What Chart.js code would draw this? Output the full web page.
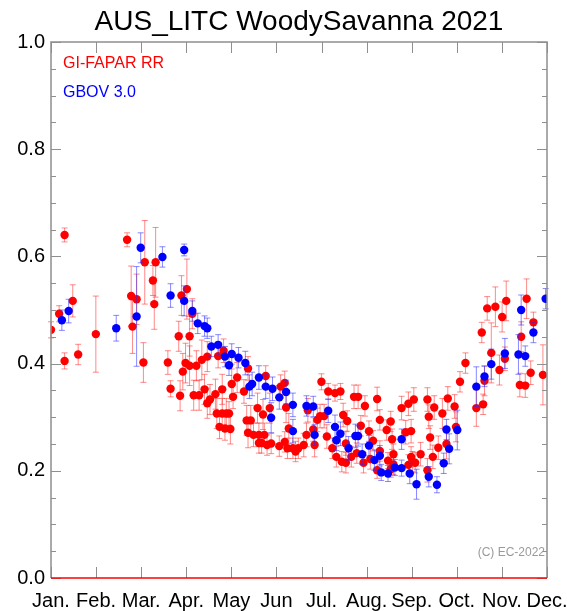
<!DOCTYPE html>
<html>
<head>
<meta charset="utf-8">
<title>AUS_LITC WoodySavanna 2021</title>
<script src="https://cdn.jsdelivr.net/npm/chart.js@4.4.1/dist/chart.umd.min.js"></script>
<style>
    html, body { margin: 0; padding: 0; background: #fff; }
    #wrap { width: 567px; height: 611px; position: relative; }
</style>
</head>
<body>
<div id="wrap"><canvas id="fapar-chart"></canvas></div>
<script>
const FONT = '"Liberation Sans", Arial, Helvetica, sans-serif';

const TITLE = 'AUS_LITC WoodySavanna 2021';
const MONTH_LABELS = ['Jan.', 'Feb.', 'Mar.', 'Apr.', 'May', 'Jun', 'Jul.', 'Aug.', 'Sep.', 'Oct.', 'Nov.', 'Dec.'];
const Y_TICKS = [0, 0.2, 0.4, 0.6, 0.8, 1.0];
const Y_MINOR_STEP = 0.05;
const DAYS_IN_YEAR = 365;

// GI-FAPAR RR: day of year, value, uncertainty
const rrDays = [0, 6, 10, 10, 16, 20, 33, 56, 59, 63, 60, 69, 68, 75, 77, 76, 86, 88, 95, 94,
    97, 99, 100, 96, 102, 102, 107, 105, 109, 111, 115, 115, 104, 113, 117, 121, 126, 123, 127, 122,
    126, 129, 131, 124, 128, 132, 134, 133, 137, 142, 145, 144, 147, 145, 149, 153, 157, 152, 156, 161,
    158, 153, 155, 159, 162, 168, 172, 174, 169, 172, 175, 173, 178, 180, 182, 186, 188, 189, 193, 194,
    196, 198, 201, 199, 203, 204, 209, 213, 207, 210, 215, 217, 214, 217, 223, 226, 221, 225, 218, 231,
    228, 234, 237, 240, 242, 230, 235, 242, 247, 250, 251, 240, 248, 250, 252, 252, 258, 263, 267, 261,
    265, 272, 265, 266, 263, 268, 277, 278, 282, 279, 281, 277, 285, 288, 292, 297, 291, 298, 301, 305,
    313, 318, 319, 317, 321, 327, 324, 330, 332, 334, 335, 345, 349, 353, 346, 350, 355, 362];
const rrValues = [0.463, 0.493, 0.640, 0.405, 0.517, 0.417, 0.455, 0.631, 0.526, 0.520, 0.469, 0.589, 0.402, 0.555, 0.589, 0.511, 0.402, 0.353, 0.340, 0.451,
    0.385, 0.401, 0.539, 0.527, 0.451, 0.396, 0.396, 0.341, 0.341, 0.407, 0.326, 0.413, 0.493, 0.352, 0.333, 0.343, 0.352, 0.414, 0.424, 0.307,
    0.307, 0.307, 0.307, 0.282, 0.279, 0.278, 0.338, 0.362, 0.374, 0.348, 0.391, 0.294, 0.294, 0.271, 0.267, 0.267, 0.267, 0.317, 0.305, 0.317,
    0.377, 0.252, 0.252, 0.248, 0.251, 0.246, 0.254, 0.242, 0.357, 0.364, 0.279, 0.318, 0.242, 0.236, 0.242, 0.248, 0.267, 0.313, 0.277, 0.248,
    0.295, 0.302, 0.302, 0.366, 0.264, 0.348, 0.345, 0.348, 0.242, 0.226, 0.304, 0.251, 0.217, 0.215, 0.338, 0.338, 0.226, 0.233, 0.293, 0.321,
    0.284, 0.274, 0.256, 0.334, 0.295, 0.215, 0.222, 0.237, 0.276, 0.292, 0.259, 0.201, 0.219, 0.203, 0.231, 0.212, 0.317, 0.325, 0.333, 0.272,
    0.274, 0.231, 0.226, 0.217, 0.211, 0.215, 0.333, 0.301, 0.318, 0.262, 0.226, 0.201, 0.243, 0.307, 0.335, 0.320, 0.250, 0.282, 0.366, 0.401,
    0.317, 0.324, 0.368, 0.458, 0.503, 0.506, 0.420, 0.388, 0.487, 0.409, 0.517, 0.360, 0.359, 0.383, 0.450, 0.521, 0.477, 0.379];
const rrErrors = [0.015, 0.015, 0.013, 0.015, 0.030, 0.019, 0.071, 0.013, 0.056, 0.047, 0.050, 0.078, 0.037, 0.028, 0.065, 0.047, 0.022, 0.015, 0.028, 0.028,
    0.034, 0.037, 0.056, 0.037, 0.037, 0.037, 0.028, 0.028, 0.028, 0.037, 0.028, 0.028, 0.028, 0.028, 0.028, 0.028, 0.028, 0.022, 0.022, 0.028,
    0.028, 0.028, 0.022, 0.022, 0.022, 0.028, 0.022, 0.028, 0.028, 0.022, 0.022, 0.028, 0.028, 0.028, 0.022, 0.022, 0.022, 0.028, 0.028, 0.028,
    0.019, 0.019, 0.019, 0.019, 0.019, 0.019, 0.019, 0.019, 0.022, 0.022, 0.028, 0.028, 0.019, 0.019, 0.019, 0.022, 0.022, 0.022, 0.022, 0.022,
    0.022, 0.022, 0.022, 0.015, 0.022, 0.015, 0.015, 0.015, 0.019, 0.019, 0.022, 0.022, 0.019, 0.019, 0.022, 0.022, 0.019, 0.019, 0.019, 0.019,
    0.019, 0.019, 0.019, 0.022, 0.019, 0.019, 0.019, 0.019, 0.019, 0.019, 0.019, 0.015, 0.015, 0.015, 0.019, 0.019, 0.022, 0.022, 0.022, 0.022,
    0.022, 0.022, 0.019, 0.019, 0.019, 0.019, 0.022, 0.022, 0.022, 0.022, 0.022, 0.022, 0.022, 0.028, 0.022, 0.022, 0.028, 0.028, 0.019, 0.019,
    0.034, 0.019, 0.028, 0.019, 0.022, 0.037, 0.056, 0.028, 0.028, 0.022, 0.037, 0.022, 0.022, 0.022, 0.028, 0.037, 0.019, 0.056];

// GBOV 3.0: day of year, value, uncertainty
const gbovDays = [8, 13, 48, 63, 66, 82, 88, 98, 98, 104, 108, 113, 115, 118, 123, 128, 133, 131, 138, 143,
    146, 148, 153, 158, 163, 168, 173, 178, 162, 178, 188, 193, 204, 194, 209, 213, 210, 219, 224, 226,
    229, 234, 238, 242, 243, 248, 253, 258, 264, 258, 269, 278, 284, 289, 291, 293, 299, 313, 319, 324,
    334, 344, 349, 346, 355, 364];
const gbovValues = [0.481, 0.498, 0.466, 0.488, 0.616, 0.599, 0.527, 0.612, 0.517, 0.498, 0.475, 0.470, 0.466, 0.432, 0.435, 0.413, 0.418, 0.397, 0.411, 0.401,
    0.357, 0.362, 0.374, 0.357, 0.353, 0.337, 0.347, 0.323, 0.299, 0.274, 0.321, 0.320, 0.312, 0.267, 0.282, 0.269, 0.257, 0.242, 0.265, 0.265,
    0.231, 0.247, 0.220, 0.228, 0.197, 0.195, 0.206, 0.205, 0.195, 0.259, 0.175, 0.189, 0.174, 0.214, 0.277, 0.241, 0.276, 0.357, 0.376, 0.399,
    0.419, 0.417, 0.414, 0.500, 0.458, 0.521];
const gbovErrors = [0.019, 0.022, 0.024, 0.093, 0.028, 0.019, 0.022, 0.011, 0.028, 0.019, 0.019, 0.019, 0.019, 0.019, 0.019, 0.019, 0.019, 0.019, 0.019, 0.022,
    0.022, 0.022, 0.022, 0.022, 0.022, 0.022, 0.022, 0.022, 0.028, 0.022, 0.019, 0.019, 0.022, 0.019, 0.022, 0.022, 0.019, 0.022, 0.022, 0.019,
    0.019, 0.019, 0.019, 0.019, 0.015, 0.015, 0.015, 0.015, 0.019, 0.019, 0.028, 0.019, 0.015, 0.019, 0.019, 0.028, 0.037, 0.037, 0.019, 0.028,
    0.028, 0.037, 0.019, 0.028, 0.019, 0.019];

const toPoints = (days, values) => days.map((d, i) => ({ x: d, y: values[i] }));

// vertical uncertainty bars with small caps, drawn under each dataset's dots
const errorBars = {
    id: 'errorBars',
    beforeDatasetDraw(chart, args) {
        const ds = chart.data.datasets[args.index];
        if (!ds.errors) return;
        const { ctx } = chart;
        const yScale = chart.scales.y;
        ctx.save();
        ctx.strokeStyle = ds.errorColor;
        ctx.lineWidth = 1;
        args.meta.data.forEach((pt, i) => {
            const v = ds.data[i].y, e = ds.errors[i];
            const top = yScale.getPixelForValue(v + e);
            const bot = yScale.getPixelForValue(v - e);
            ctx.beginPath();
            ctx.moveTo(pt.x, top); ctx.lineTo(pt.x, bot);
            ctx.moveTo(pt.x - 3, top); ctx.lineTo(pt.x + 3, top);
            ctx.moveTo(pt.x - 3, bot); ctx.lineTo(pt.x + 3, bot);
            ctx.stroke();
        });
        ctx.restore();
    }
};

// box frame with inward ticks, title over the plot, legend text and credit line
const frame = {
    id: 'frame',
    afterDraw(chart) {
        const { ctx, chartArea: a, scales: { x, y } } = chart;
        ctx.save();
        ctx.strokeStyle = '#8f8f8f';
        ctx.lineWidth = 1.5;
        ctx.beginPath();
        ctx.moveTo(a.left, a.bottom); ctx.lineTo(a.left, a.top);
        ctx.lineTo(a.right, a.top); ctx.lineTo(a.right, a.bottom);
        ctx.stroke();

        ctx.lineWidth = 1;
        ctx.beginPath();
        x.ticks.forEach(t => {
            const px = Math.round(x.getPixelForValue(t.value)) + 0.5;
            ctx.moveTo(px, a.top); ctx.lineTo(px, a.top + 11);
            ctx.moveTo(px, a.bottom); ctx.lineTo(px, a.bottom - 11);
        });
        for (let v = 0; v <= 1.0001; v += Y_MINOR_STEP) {
            const py = Math.round(y.getPixelForValue(v)) + 0.5;
            const major = Y_TICKS.some(t => Math.abs(t - v) < 1e-6);
            const len = major ? 10 : 5;
            ctx.moveTo(a.left, py); ctx.lineTo(a.left + len, py);
            ctx.moveTo(a.right, py); ctx.lineTo(a.right - len, py);
        }
        ctx.stroke();

        ctx.strokeStyle = '#ff0000';
        ctx.lineWidth = 1.5;
        ctx.beginPath();
        ctx.moveTo(a.left, a.bottom); ctx.lineTo(a.right, a.bottom);
        ctx.stroke();

        ctx.textAlign = 'center';
        ctx.textBaseline = 'alphabetic';
        ctx.font = '28px ' + FONT;
        ctx.fillStyle = '#000';
        ctx.fillText(TITLE, (a.left + a.right) / 2, 30);

        ctx.textBaseline = 'middle';
        ctx.textAlign = 'left';
        ctx.font = '16px ' + FONT;
        ctx.fillStyle = '#ff0000';
        ctx.fillText('GI-FAPAR RR', a.left + 12, a.top + 22);
        ctx.fillStyle = '#0000ff';
        ctx.fillText('GBOV 3.0', a.left + 12, a.top + 51);

        ctx.textAlign = 'right';
        ctx.font = '12px ' + FONT;
        ctx.fillStyle = '#9a9a9a';
        ctx.fillText('(C) EC-2022', a.right - 2, a.bottom - 25);
        ctx.restore();
    }
};

new Chart(document.getElementById('fapar-chart'), {
    type: 'scatter',
    data: {
        datasets: [
            {
                label: 'GI-FAPAR RR',
                data: toPoints(rrDays, rrValues),
                errors: rrErrors,
                errorColor: 'rgba(255, 40, 40, 0.55)',
                backgroundColor: '#ff0000',
                borderWidth: 0,
                pointRadius: 4.2,
                order: 2,
            },
            {
                label: 'GBOV 3.0',
                data: toPoints(gbovDays, gbovValues),
                errors: gbovErrors,
                errorColor: 'rgba(40, 40, 255, 0.55)',
                backgroundColor: '#0000ff',
                borderWidth: 0,
                pointRadius: 4.2,
                order: 1,
            },
        ]
    },
    options: {
        responsive: true,
        maintainAspectRatio: false,
        animation: false,
        layout: { padding: { left: 0, right: 20, top: 42, bottom: 0 } },
        plugins: {
            legend: { display: false },
            tooltip: { enabled: false },
            title: { display: false },
        },
        scales: {
            x: {
                type: 'linear',
                min: 0,
                max: DAYS_IN_YEAR,
                afterBuildTicks: scale => {
                    scale.ticks = MONTH_LABELS.map((_, i) => ({ value: i * DAYS_IN_YEAR / (MONTH_LABELS.length - 1) }));
                },
                afterFit: scale => {
                    scale.height = 33;
                    scale.paddingLeft = 0;
                    scale.paddingRight = 0;
                },
                grid: { drawOnChartArea: false, drawTicks: false },
                border: { display: false },
                ticks: {
                    autoSkip: false,
                    maxRotation: 0,
                    padding: 11,
                    color: '#000',
                    font: { family: FONT, size: 20 },
                    callback: (v, i) => MONTH_LABELS[i],
                },
            },
            y: {
                min: 0,
                max: 1,
                afterBuildTicks: scale => {
                    scale.ticks = Y_TICKS.map(v => ({ value: v }));
                },
                afterFit: scale => {
                    scale.width = 51;
                    scale.paddingTop = 0;
                    scale.paddingBottom = 0;
                },
                grid: { drawOnChartArea: false, drawTicks: false },
                border: { display: false },
                ticks: {
                    padding: 6,
                    color: '#000',
                    font: { family: FONT, size: 20 },
                    callback: v => v.toFixed(1),
                },
            },
        },
    },
    plugins: [errorBars, frame],
});
</script>
</body>
</html>
